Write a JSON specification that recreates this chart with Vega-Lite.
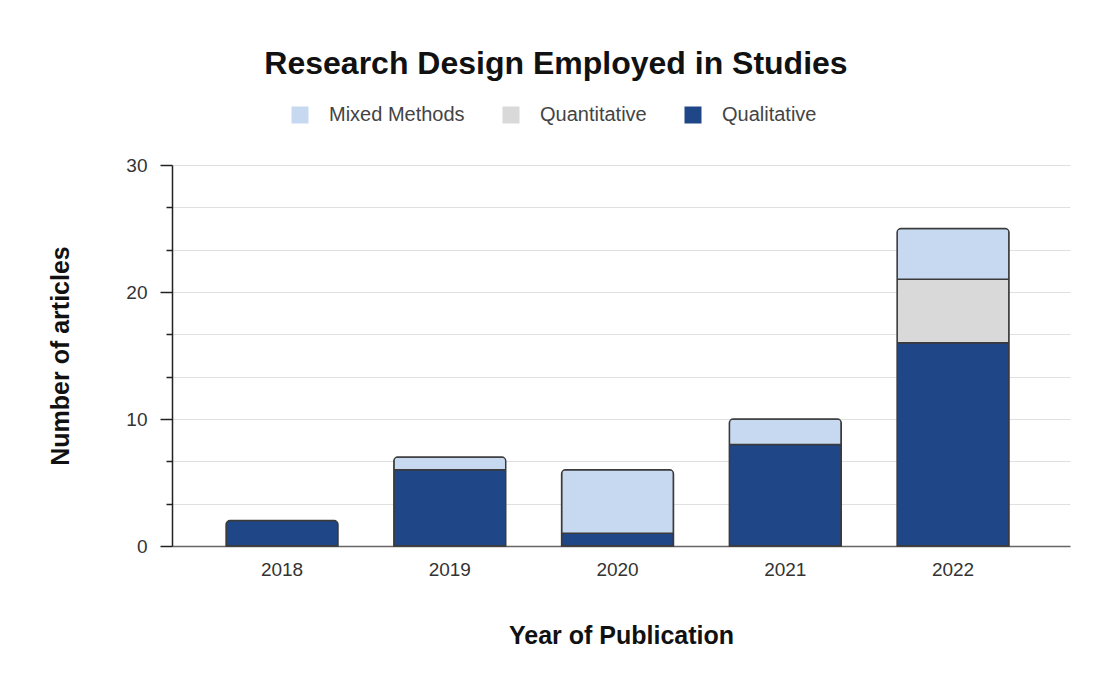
{
  "$schema": "https://vega.github.io/schema/vega-lite/v6.json",
  "width": 898,
  "height": 381,
  "autosize": "none",
  "padding": {"left": 172, "top": 165, "right": 23, "bottom": 133},
  "background": "white",
  "title": {
    "text": "Research Design Employed in Studies",
    "font": "Liberation Sans",
    "fontSize": 32,
    "fontWeight": "bold",
    "color": "#111111",
    "anchor": "middle",
    "dx": -65,
    "offset": 24
  },
  "config": {
    "font": "Liberation Sans",
    "view": {"stroke": null}
  },
  "data": {
    "values": [
      {"year": "2018", "type": "Qualitative", "count": 2, "ord": 1},
      {"year": "2019", "type": "Qualitative", "count": 6, "ord": 1},
      {"year": "2019", "type": "Mixed Methods", "count": 1, "ord": 3},
      {"year": "2020", "type": "Qualitative", "count": 1, "ord": 1},
      {"year": "2020", "type": "Mixed Methods", "count": 5, "ord": 3},
      {"year": "2021", "type": "Qualitative", "count": 8, "ord": 1},
      {"year": "2021", "type": "Mixed Methods", "count": 2, "ord": 3},
      {"year": "2022", "type": "Qualitative", "count": 16, "ord": 1},
      {"year": "2022", "type": "Quantitative", "count": 5, "ord": 2},
      {"year": "2022", "type": "Mixed Methods", "count": 4, "ord": 3}
    ]
  },
  "mark": {"type": "bar", "stroke": "#3a3a3a", "strokeWidth": 1.5, "cornerRadiusEnd": 4},
  "encoding": {
    "x": {
      "field": "year",
      "type": "nominal",
      "sort": ["2018", "2019", "2020", "2021", "2022"],
      "scale": {"paddingInner": 0.333, "paddingOuter": 0.343, "align": 0.47},
      "axis": {
        "title": "Year of Publication",
        "titleFont": "Liberation Sans",
        "titleFontSize": 25,
        "titleFontWeight": "bold",
        "titleColor": "#111111",
        "titlePadding": 44,
        "labelAngle": 0,
        "labelFontSize": 19,
        "labelColor": "#333333",
        "labelPadding": 14,
        "ticks": false,
        "domainColor": "#666666",
        "domainWidth": 1.5,
        "grid": false
      }
    },
    "y": {
      "aggregate": "sum",
      "field": "count",
      "type": "quantitative",
      "stack": "zero",
      "scale": {"domain": [0, 30], "nice": false},
      "axis": {
        "title": "Number of articles",
        "titleFont": "Liberation Sans",
        "titleFontSize": 25,
        "titleFontWeight": "bold",
        "titleColor": "#111111",
        "titlePadding": 52,
        "values": [0, 3.3333, 6.6667, 10, 13.3333, 16.6667, 20, 23.3333, 26.6667, 30],
        "labelExpr": "abs(datum.value % 10) < 0.001 ? datum.label : ''",
        "labelFontSize": 19,
        "labelColor": "#333333",
        "labelPadding": 13,
        "tickSize": {"condition": {"test": "abs(datum.value % 10) < 0.001", "value": 12}, "value": 6},
        "tickColor": "#222222",
        "tickWidth": 1.5,
        "domainColor": "#222222",
        "domainWidth": 1.5,
        "gridColor": "#e0e0e0",
        "gridWidth": 1.2,
        "encode": {"ticks": {"update": {"x": {"value": 9}}}}
      }
    },
    "color": {
      "field": "type",
      "type": "nominal",
      "scale": {
        "domain": ["Mixed Methods", "Quantitative", "Qualitative"],
        "range": ["#c6d9f1", "#d9d9d9", "#1f4788"]
      },
      "legend": {
        "title": null,
        "orient": "none",
        "direction": "horizontal",
        "legendX": 118,
        "legendY": -60,
        "symbolType": "square",
        "symbolSize": 289,
        "symbolStrokeWidth": 0,
        "labelFont": "Liberation Sans",
        "labelFontSize": 20,
        "labelColor": "#444444",
        "labelOffset": 19,
        "columnPadding": 36
      }
    },
    "order": {"field": "ord", "type": "quantitative"}
  }
}
